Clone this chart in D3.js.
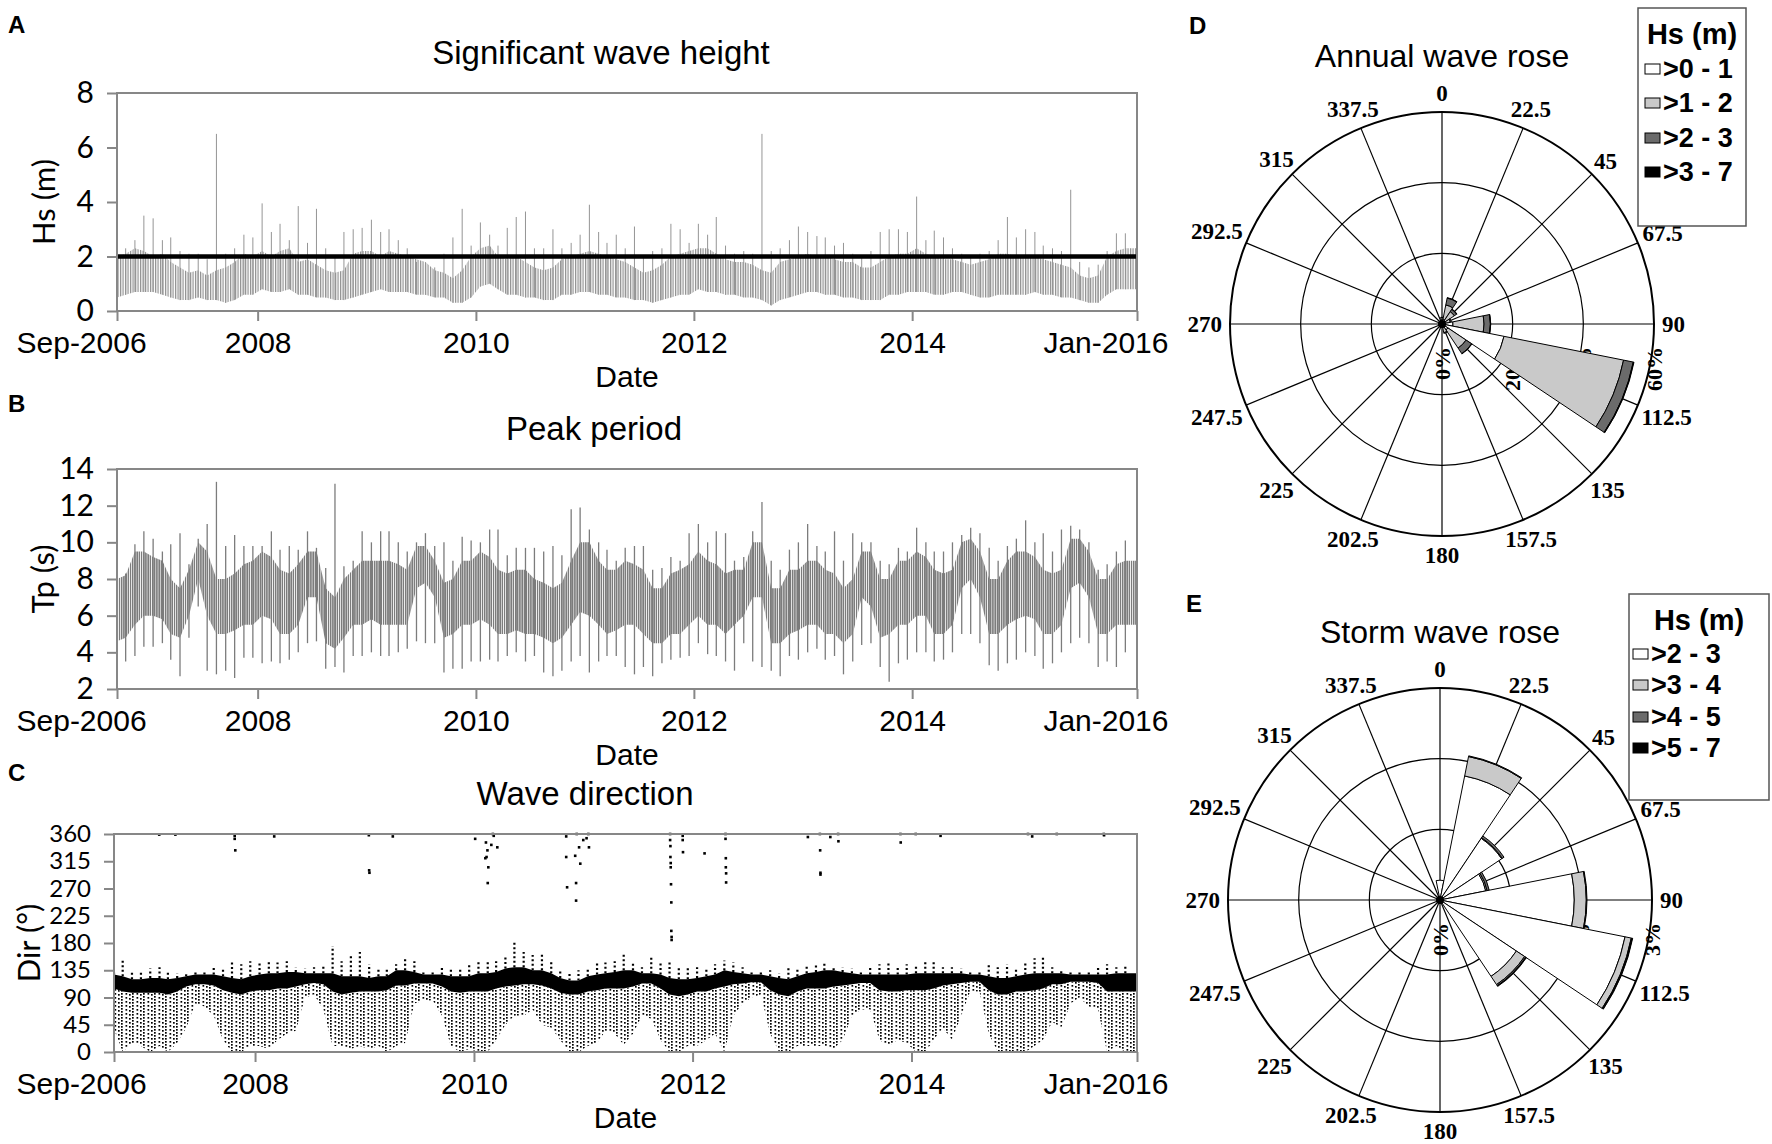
<!DOCTYPE html>
<html>
<head>
<meta charset="utf-8">
<script src="https://cdn.jsdelivr.net/npm/d3@7"></script>
<style>
  body { margin: 0; background: #fff; }
</style>
</head>
<body>
<script>
// ---- time series, one value per month, Sep-2006 .. Dec-2015 ----
var hsLo = [0.5, 0.6, 0.7, 0.7,
  0.7, 0.6, 0.5, 0.4, 0.4, 0.5, 0.4, 0.4, 0.3, 0.4, 0.6, 0.6,
  0.8, 0.7, 0.7, 0.8, 0.6, 0.6, 0.5, 0.5, 0.4, 0.4, 0.5, 0.6,
  0.7, 0.8, 0.7, 0.7, 0.7, 0.6, 0.6, 0.5, 0.5, 0.3, 0.3, 0.5,
  0.9, 1.0, 0.8, 0.6, 0.6, 0.5, 0.5, 0.4, 0.4, 0.6, 0.6, 0.7,
  0.7, 0.6, 0.6, 0.5, 0.5, 0.4, 0.4, 0.3, 0.4, 0.5, 0.6, 0.6,
  0.8, 0.7, 0.7, 0.6, 0.6, 0.5, 0.5, 0.4, 0.2, 0.4, 0.5, 0.6,
  0.7, 0.7, 0.6, 0.6, 0.5, 0.5, 0.4, 0.4, 0.4, 0.6, 0.6, 0.7,
  0.7, 0.7, 0.6, 0.6, 0.7, 0.7, 0.6, 0.5, 0.5, 0.6, 0.6, 0.6,
  0.6, 0.7, 0.6, 0.6, 0.5, 0.5, 0.4, 0.3, 0.3, 0.6, 0.8, 0.8];
var hsHi = [2.0, 2.1, 2.3, 2.2,
  2.0, 2.1, 1.8, 1.6, 1.4, 1.5, 1.3, 1.5, 1.6, 1.8, 2.1, 2.0,
  2.2, 2.0, 2.2, 2.3, 1.8, 1.9, 1.7, 1.5, 1.4, 1.5, 2.1, 2.2,
  2.2, 2.0, 2.2, 2.1, 2.0, 1.9, 1.8, 1.5, 1.4, 1.2, 1.5, 2.0,
  2.3, 2.4, 2.0, 1.9, 2.0, 1.8, 1.6, 1.5, 1.6, 1.9, 2.0, 2.1,
  2.2, 2.1, 2.0, 1.9, 1.8, 1.6, 1.4, 1.5, 1.7, 2.0, 2.1, 2.2,
  2.3, 2.3, 2.1, 1.9, 1.8, 1.8, 1.7, 1.5, 1.4, 1.8, 1.9, 2.0,
  2.1, 2.0, 2.0, 1.9, 1.8, 1.8, 1.6, 1.6, 1.8, 2.0, 2.1, 2.1,
  2.3, 2.1, 2.0, 1.9, 1.9, 1.8, 1.7, 1.8, 1.9, 2.1, 2.1, 2.0,
  2.0, 2.0, 1.9, 1.8, 1.7, 1.6, 1.3, 1.2, 1.3, 2.0, 2.2, 2.3];
var hsMax = [2.2, 2.3, 2.6, 3.5,
  3.4, 2.6, 2.7, 2.2, 2.1, 2.1, 1.9, 6.5, 2.1, 2.3, 2.8, 2.7,
  3.95, 2.9, 3.2, 2.6, 3.85, 2.5, 3.75, 2.3, 2.0, 2.9, 3.0, 3.05,
  3.35, 2.9, 3.0, 2.6, 2.3, 1.8, 1.7, 1.6, 2.1, 2.7, 3.75, 2.4,
  3.25, 2.8, 2.4, 3.05, 3.45, 3.65, 2.3, 2.3, 3.0, 2.3, 2.5, 2.8,
  3.9, 2.9, 2.5, 2.8, 2.3, 3.1, 2.0, 2.2, 2.3, 3.2, 3.0, 2.5,
  3.2, 2.8, 3.45, 2.4, 2.1, 2.2, 2.1, 6.5, 2.2, 2.3, 2.6, 3.1,
  2.9, 2.75, 2.7, 2.4, 2.5, 2.1, 2.0, 2.2, 2.9, 3.0, 3.0, 2.9,
  4.2, 2.6, 2.95, 2.7, 2.3, 2.1, 2.0, 2.1, 2.2, 2.6, 3.45, 2.7,
  3.0, 2.9, 2.4, 2.3, 2.2, 4.45, 1.8, 1.6, 1.7, 2.2, 2.85, 2.85];
var hsThreshold = 2;

var tpMin = [3.6, 3.5, 3.8, 4.3,
  4.3, 4.5, 3.6, 2.7, 4.8, 6.5, 3.0, 2.8, 3.0, 2.6, 3.7, 3.7,
  3.4, 3.5, 3.4, 3.6, 4.0, 4.5, 4.6, 3.1, 3.2, 2.9, 3.8, 3.8,
  4.0, 3.8, 3.8, 4.0, 4.2, 4.6, 4.5, 4.5, 2.9, 3.1, 3.1, 3.5,
  3.5, 3.6, 3.5, 3.8, 4.0, 3.5, 3.8, 2.9, 2.7, 3.0, 3.5, 3.8,
  2.9, 3.5, 3.8, 3.8, 3.2, 2.8, 3.2, 2.7, 3.4, 3.6, 3.7, 3.8,
  4.5, 3.9, 3.8, 3.5, 3.0, 4.5, 3.5, 3.2, 3.0, 2.7, 3.8, 3.6,
  4.0, 4.2, 3.6, 3.8, 2.8, 3.5, 4.4, 4.5, 3.2, 2.4, 3.4, 3.6,
  4.0, 4.0, 3.5, 3.6, 4.0, 5.0, 5.0, 4.5, 3.3, 3.0, 3.4, 3.6,
  4.0, 3.8, 3.1, 3.4, 4.0, 4.5, 4.8, 4.5, 3.2, 3.5, 3.2, 4.0];
var tpLo = [4.6, 4.8, 5.5, 6.0,
  6.0, 5.8, 5.0, 4.8, 6.0, 8.0, 6.0, 5.0, 5.0, 5.2, 5.5, 5.5,
  6.0, 5.8, 5.0, 5.0, 5.5, 7.0, 7.0, 4.5, 4.2, 4.8, 5.5, 5.5,
  5.8, 5.5, 5.5, 5.5, 5.5, 7.5, 7.8, 7.0, 4.8, 5.0, 5.5, 5.5,
  5.8, 5.5, 5.0, 5.0, 5.2, 5.0, 5.0, 4.8, 4.5, 4.8, 5.5, 6.2,
  6.0, 5.5, 5.0, 5.2, 5.5, 5.5, 5.0, 4.5, 4.5, 5.0, 5.0, 5.5,
  6.0, 5.5, 5.5, 5.0, 5.5, 6.0, 7.0, 7.0, 4.5, 4.5, 5.0, 5.2,
  5.5, 5.5, 5.0, 5.0, 4.5, 5.0, 7.0, 6.5, 4.8, 5.0, 5.5, 5.5,
  6.0, 6.0, 5.0, 5.0, 5.5, 7.5, 8.0, 7.0, 5.0, 5.0, 5.5, 5.8,
  6.0, 5.8, 5.0, 5.0, 5.5, 7.5, 7.8, 7.0, 5.0, 5.0, 5.5, 5.5];
var tpHi = [8.0, 8.2, 9.5, 9.5,
  9.2, 9.0, 8.0, 7.5, 8.5, 10.0, 9.5, 8.0, 8.0, 8.3, 8.8, 9.0,
  9.5, 9.2, 8.5, 8.3, 8.8, 9.5, 9.5, 7.5, 7.0, 8.0, 8.5, 9.0,
  9.0, 9.0, 9.0, 8.8, 8.5, 9.8, 9.8, 9.0, 7.8, 8.0, 9.0, 9.0,
  9.5, 9.2, 8.5, 8.3, 8.5, 8.5, 8.0, 7.8, 7.5, 7.8, 9.0, 10.0,
  10.0, 9.0, 8.5, 8.5, 9.0, 8.8, 8.5, 7.5, 7.5, 8.3, 8.5, 8.8,
  9.5, 9.0, 8.8, 8.3, 8.5, 8.5, 10.0, 10.0, 7.5, 7.5, 8.5, 8.5,
  9.0, 9.0, 8.5, 8.3, 7.5, 8.0, 9.5, 9.5, 8.0, 8.0, 9.0, 9.0,
  9.5, 9.2, 8.5, 8.3, 8.5, 10.0, 10.2, 9.5, 8.0, 8.0, 9.0, 9.5,
  9.5, 9.2, 8.5, 8.3, 8.5, 10.2, 10.2, 9.5, 8.0, 8.0, 8.8, 9.0];
var tpMax = [8.2, 8.3, 9.9, 10.6,
  10.2, 9.5, 9.9, 10.5, 8.8, 10.2, 11.0, 13.3, 9.8, 10.4, 9.8, 9.8,
  9.8, 10.6, 9.6, 9.8, 9.6, 10.6, 9.7, 8.6, 13.2, 8.7, 9.0, 10.6,
  10.0, 10.6, 10.6, 10.0, 9.5, 10.0, 10.5, 9.8, 10.0, 9.0, 10.3, 10.1,
  10.0, 10.7, 10.7, 9.3, 9.7, 9.7, 9.7, 9.5, 9.8, 9.3, 11.8, 11.9,
  10.7, 10.0, 9.6, 9.0, 9.7, 9.8, 9.8, 8.5, 8.6, 9.2, 9.0, 10.5,
  11.0, 10.0, 10.6, 10.5, 9.0, 9.2, 10.6, 12.2, 9.0, 8.5, 9.6, 10.0,
  11.0, 9.8, 9.5, 10.6, 9.0, 10.5, 10.0, 10.0, 9.0, 8.8, 9.7, 9.5,
  10.8, 10.0, 9.5, 9.5, 10.0, 10.4, 10.8, 10.5, 9.7, 9.0, 9.8, 10.2,
  11.2, 10.0, 10.5, 9.5, 10.7, 10.9, 10.7, 10.0, 8.5, 8.8, 9.5, 10.1];

var dirMin = [38, 0, 15, 10,
  0, 10, 0, 15, 40, 80, 75, 60, 20, 0, 0, 10,
  10, 5, 20, 30, 35, 90, 95, 70, 10, 10, 5, 10,
  5, 10, 0, 10, 15, 80, 85, 85, 60, 10, 0, 5,
  0, 0, 20, 45, 60, 60, 70, 45, 40, 20, 0, 0,
  10, 15, 35, 30, 12, 30, 60, 55, 20, 0, 0, 10,
  10, 20, 30, 0, 60, 80, 90, 95, 30, 0, 0, 10,
  10, 10, 10, 5, 20, 60, 70, 70, 20, 10, 20, 15,
  0, 0, 20, 40, 20, 60, 100, 100, 30, 0, 0, 0,
  0, 10, 20, 50, 40, 80, 90, 75, 70, 0, 10, 0];
var dirLo = [105, 100, 98, 98,
  98, 98, 95, 100, 108, 112, 112, 110, 102, 98, 95, 100,
  102, 102, 105, 105, 108, 112, 114, 112, 100, 95, 98, 100,
  100, 100, 102, 110, 110, 113, 113, 113, 108, 100, 98, 100,
  100, 100, 105, 108, 110, 112, 112, 110, 105, 98, 95, 95,
  100, 102, 105, 105, 105, 108, 113, 113, 105, 95, 92, 95,
  100, 100, 105, 108, 112, 113, 115, 115, 102, 95, 92, 100,
  105, 105, 105, 108, 110, 112, 114, 114, 102, 100, 100, 102,
  102, 102, 105, 110, 112, 114, 116, 116, 102, 95, 95, 100,
  100, 102, 105, 112, 112, 116, 116, 116, 114, 100, 100, 100];
var dirHi = [128, 125, 120, 120,
  122, 122, 120, 122, 125, 128, 128, 128, 125, 122, 120, 125,
  128, 130, 130, 132, 132, 130, 130, 130, 130, 125, 125, 125,
  122, 125, 125, 135, 135, 132, 128, 128, 128, 125, 125, 125,
  130, 130, 132, 138, 140, 140, 135, 135, 130, 122, 118, 118,
  125, 128, 130, 132, 135, 135, 130, 130, 128, 122, 120, 120,
  122, 125, 128, 135, 132, 130, 128, 128, 125, 122, 120, 125,
  130, 132, 135, 135, 132, 130, 128, 128, 128, 128, 128, 128,
  130, 130, 130, 130, 130, 130, 128, 128, 125, 122, 122, 125,
  128, 130, 130, 130, 130, 128, 128, 128, 128, 128, 130, 130];
var dirMax = [132, 155, 135, 135,
  138, 140, 135, 130, 132, 132, 135, 140, 140, 150, 145, 150,
  150, 150, 148, 150, 140, 138, 140, 145, 175, 150, 160, 165,
  145, 140, 140, 145, 154, 150, 135, 135, 140, 140, 140, 145,
  150, 150, 150, 160, 182, 165, 160, 162, 150, 135, 130, 135,
  140, 150, 148, 150, 163, 150, 140, 158, 150, 148, 140, 140,
  140, 140, 145, 151, 148, 140, 135, 132, 135, 130, 140, 140,
  145, 145, 149, 140, 140, 138, 135, 140, 145, 148, 140, 145,
  145, 150, 152, 140, 140, 138, 132, 132, 145, 140, 145, 140,
  150, 155, 157, 140, 135, 135, 132, 135, 140, 145, 140, 145];
// isolated direction readings far above the main band
var dirOutliers = [
  ["2007-02-15", 359], ["2007-04-10", 359], ["2007-10-25", 357], ["2007-10-25", 352], ["2007-10-27", 333],
  ["2008-03-05", 356], ["2009-01-15", 358], ["2009-01-16", 300], ["2009-01-17", 296], ["2009-04-05", 356],
  ["2010-01-05", 352], ["2010-02-08", 320], ["2010-02-10", 346], ["2010-02-12", 322], ["2010-02-15", 333],
  ["2010-02-16", 279], ["2010-02-18", 305], ["2010-02-28", 342], ["2010-03-05", 360], ["2010-03-08", 357],
  ["2010-03-20", 338], ["2010-11-05", 356], ["2010-11-05", 322], ["2010-11-08", 272], ["2010-12-05", 324],
  ["2010-12-08", 250], ["2010-12-08", 279], ["2010-12-10", 360], ["2010-12-18", 338], ["2010-12-22", 311],
  ["2011-01-01", 350], ["2011-01-12", 353], ["2011-01-18", 360], ["2011-01-20", 338],
  ["2011-10-18", 360], ["2011-10-18", 350], ["2011-10-19", 340], ["2011-10-19", 322], ["2011-10-20", 312],
  ["2011-10-20", 305], ["2011-10-21", 277], ["2011-10-22", 247], ["2011-10-22", 200], ["2011-10-23", 190],
  ["2011-10-23", 185], ["2011-11-29", 357], ["2011-11-29", 350], ["2011-11-30", 330], ["2012-02-10", 328],
  ["2012-04-20", 360], ["2012-04-20", 352], ["2012-04-21", 320], ["2012-04-21", 305], ["2012-04-22", 295],
  ["2012-04-22", 280], ["2013-01-20", 355], ["2013-03-01", 360], ["2013-03-02", 333], ["2013-03-03", 296],
  ["2013-03-03", 293], ["2013-04-05", 355], ["2013-05-01", 360], ["2013-05-02", 348], ["2013-11-25", 360],
  ["2013-11-26", 346], ["2014-01-15", 360], ["2014-04-08", 357], ["2015-01-25", 360], ["2015-02-08", 356],
  ["2015-05-01", 360], ["2015-10-05", 360], ["2015-10-06", 358]];

var dateTickLabels = ["Sep-2006", "2008", "2010", "2012", "2014", "Jan-2016"];
var hsTicks = [0, 2, 4, 6, 8];
var tpTicks = [2, 4, 6, 8, 10, 12, 14];
var dirTicks = [0, 45, 90, 135, 180, 225, 270, 315, 360];

// ---- wave roses (% of time per direction and Hs class) ----
var roseDirs = [0, 22.5, 45, 67.5, 90, 112.5, 135, 157.5, 180, 202.5, 225, 247.5, 270, 292.5, 315, 337.5];
var annual01 = [1.2, 1.4, 1.0, 0.8, 3.1, 17.9, 2.0, 1.0, 0.4, 0.3, 0.2, 0.2, 0.2, 0.2, 0.3, 0.5];
var annual12 = [0.6, 4.1, 3.2, 1.6, 8.8, 34.5, 6.2, 1.5, 0.2, 0.1, 0, 0, 0, 0, 0, 0.2];
var annual23 = [0.1, 2.0, 0.8, 0.3, 1.8, 2.8, 1.9, 0.2, 0, 0, 0, 0, 0, 0, 0, 0];
var annual37 = [0, 0.1, 0.1, 0, 0.1, 0.2, 0.1, 0, 0, 0, 0, 0, 0, 0, 0, 0];
var storm23 = [0.28, 1.79, 1.05, 0.66, 1.90, 2.67, 1.30, 0, 0, 0, 0, 0, 0, 0, 0, 0];
var storm34 = [0, 0.28, 0.01, 0.02, 0.17, 0.09, 0.14, 0, 0, 0, 0, 0, 0, 0, 0, 0];
var storm45 = [0, 0.01, 0.03, 0.03, 0.01, 0.01, 0.02, 0, 0, 0, 0, 0, 0, 0, 0, 0];
var storm57 = [0, 0, 0, 0, 0, 0.01, 0.01, 0, 0, 0, 0, 0, 0, 0, 0, 0];
var annualClasses = [">0 - 1", ">1 - 2", ">2 - 3", ">3 - 7"];
var stormClasses = [">2 - 3", ">3 - 4", ">4 - 5", ">5 - 7"];
var classColors = ["#ffffff", "#c9c9c9", "#6b6b6b", "#000000"];

// ------------------------------------------------------------------
var W = 1772, H = 1144;
var SANS = "'Liberation Sans', Arial, sans-serif";
var SERIF = "'Liberation Serif', 'Times New Roman', serif";
var CALI = "Lato, 'Liberation Sans', sans-serif";
var svg = d3.select("body").append("svg").attr("width", W).attr("height", H)
  .attr("font-family", SANS);
var defs = svg.append("defs");
var axisGrey = "#878787";

var months = d3.timeMonth.range(new Date(2006, 8, 1), new Date(2016, 0, 1));
var tStart = new Date(2006, 8, 17), tEnd = new Date(2016, 0, 24);
var dateTicks = [tStart, new Date(2008, 0, 1), new Date(2010, 0, 1), new Date(2012, 0, 1), new Date(2014, 0, 1), tEnd];
function mid(i) { return d3.timeDay.offset(months[i], 15); }

function hatch(id, w, color, sw) {
  var p = defs.append("pattern").attr("id", id).attr("patternUnits", "userSpaceOnUse")
    .attr("width", w).attr("height", 8);
  p.append("rect").attr("width", sw).attr("height", 8).attr("fill", color);
}
hatch("hatchA", 2.5, "#8f8f8f", 1.2);
hatch("hatchB", 2.2, "#7c7c7c", 1.5);
// dotted vertical strands for the scattered directions
var dots = defs.append("pattern").attr("id", "dotsC").attr("patternUnits", "userSpaceOnUse")
  .attr("width", 11).attr("height", 12);
[[0, 0], [0, 3], [0, 6], [0, 9], [4.5, 1], [4.5, 5], [4.5, 9], [8, 2], [8, 6], [8, 10]]
  .forEach(function(p) {
    dots.append("rect").attr("x", p[0]).attr("y", p[1]).attr("width", 1.7).attr("height", 1.7).attr("fill", "#000");
  });

// band between two monthly series, held out to both ends of the axis
function band(lo, hi) {
  var n = lo.length - 1;
  var pts = [{ t: tStart, lo: lo[0], hi: hi[0] }];
  months.forEach(function(m, i) { pts.push({ t: mid(i), lo: lo[i], hi: hi[i] }); });
  pts.push({ t: tEnd, lo: lo[n], hi: hi[n] });
  return pts;
}

function seriesPanel(o) {
  var x = d3.scaleTime().domain([tStart, tEnd]).range([o.left, o.right]).clamp(true);
  var y = d3.scaleLinear().domain(o.yDomain).range([o.bottom, o.top]);
  var g = svg.append("g");

  defs.append("clipPath").attr("id", "clip" + o.id).append("rect")
    .attr("x", o.left).attr("y", o.top - 2)
    .attr("width", o.right - o.left).attr("height", o.bottom - o.top + 2);
  var plot = g.append("g").attr("clip-path", "url(#clip" + o.id + ")");
  o.draw(plot, x, y);

  g.append("rect").attr("x", o.left).attr("y", o.top)
    .attr("width", o.right - o.left).attr("height", o.bottom - o.top)
    .attr("fill", "none").attr("stroke", axisGrey).attr("stroke-width", 2);

  var ya = g.append("g").attr("transform", "translate(" + o.left + ",0)")
    .call(d3.axisLeft(y).tickValues(o.yTicks).tickSize(10).tickPadding(13).tickSizeOuter(0));
  ya.select(".domain").remove();
  ya.selectAll("line").attr("stroke", axisGrey).attr("stroke-width", 2);
  ya.selectAll("text").attr("font-size", o.yTickSize).attr("fill", "#000").attr("font-family", CALI);

  var xa = g.append("g").attr("transform", "translate(0," + o.bottom + ")")
    .call(d3.axisBottom(x).tickValues(dateTicks)
      .tickFormat(function(d, i) { return dateTickLabels[i]; })
      .tickSize(10).tickPadding(11).tickSizeOuter(0));
  xa.select(".domain").remove();
  xa.selectAll("line").attr("stroke", axisGrey).attr("stroke-width", 2);
  xa.selectAll("text").attr("font-size", 30).attr("fill", "#000").attr("font-family", SANS);
  var last = dateTicks.length - 1;
  xa.selectAll(".tick text").each(function(d, i) {
    if (i === 0) d3.select(this).attr("text-anchor", "start").attr("x", 16 - o.left);
    if (i === last) d3.select(this).attr("text-anchor", "end").attr("x", 1168 - o.right);
  });

  g.append("text").attr("x", o.titleX).attr("y", o.top - 29).attr("text-anchor", "middle")
    .attr("font-size", 33).text(o.title);
  g.append("text").attr("x", (o.left + o.right) / 2).attr("y", o.bottom + 76)
    .attr("text-anchor", "middle").attr("font-size", 30).text("Date");
  g.append("text")
    .attr("transform", "translate(" + o.yTitleX + "," + (o.top + o.bottom) / 2 + ") rotate(-90)")
    .attr("text-anchor", "middle").attr("dy", "0.35em").attr("font-size", 31)
    .attr("font-family", CALI).text(o.yTitle);
  g.append("text").attr("x", 8).attr("y", o.letterY).attr("font-size", 24)
    .attr("font-weight", "bold").text(o.letter);
}

seriesPanel({
  id: "A", letter: "A", letterY: 33, title: "Significant wave height", titleX: 601,
  yTitle: "Hs (m)", yTitleX: 44, yTickSize: 30,
  left: 117, right: 1137, top: 93, bottom: 311, yDomain: [0, 8], yTicks: hsTicks,
  draw: function(plot, x, y) {
    plot.append("path").datum(band(hsLo, hsHi))
      .attr("d", d3.area().x(function(d) { return x(d.t); })
        .y0(function(d) { return y(d.lo); }).y1(function(d) { return y(d.hi); }))
      .attr("fill", "url(#hatchA)");
    plot.selectAll(".spike").data(months).enter().append("line")
      .attr("x1", function(d, i) { return x(mid(i)); }).attr("x2", function(d, i) { return x(mid(i)); })
      .attr("y1", function(d, i) { return y(hsLo[i]); }).attr("y2", function(d, i) { return y(hsMax[i]); })
      .attr("stroke", "#959595").attr("stroke-width", 1);
    plot.append("line").attr("x1", x.range()[0]).attr("x2", x.range()[1])
      .attr("y1", y(hsThreshold)).attr("y2", y(hsThreshold))
      .attr("stroke", "#000").attr("stroke-width", 4.5);
  }
});

seriesPanel({
  id: "B", letter: "B", letterY: 412, title: "Peak period", titleX: 594,
  yTitle: "Tp (s)", yTitleX: 43, yTickSize: 30,
  left: 117, right: 1137, top: 469, bottom: 689, yDomain: [2, 14], yTicks: tpTicks,
  draw: function(plot, x, y) {
    plot.append("path").datum(band(tpLo, tpHi))
      .attr("d", d3.area().x(function(d) { return x(d.t); })
        .y0(function(d) { return y(d.lo); }).y1(function(d) { return y(d.hi); }))
      .attr("fill", "url(#hatchB)");
    plot.selectAll(".spike").data(months).enter().append("line")
      .attr("x1", function(d, i) { return x(mid(i)); }).attr("x2", function(d, i) { return x(mid(i)); })
      .attr("y1", function(d, i) { return y(tpMin[i]); }).attr("y2", function(d, i) { return y(tpMax[i]); })
      .attr("stroke", "#7c7c7c").attr("stroke-width", 1.3);
  }
});

seriesPanel({
  id: "C", letter: "C", letterY: 781, title: "Wave direction", titleX: 585,
  yTitle: "Dir (°)", yTitleX: 29, yTickSize: 24,
  left: 114, right: 1137, top: 834, bottom: 1052, yDomain: [0, 360], yTicks: dirTicks,
  draw: function(plot, x, y) {
    var ax = function(d) { return x(d.t); };
    plot.append("path").datum(band(dirMin, dirLo))
      .attr("d", d3.area().x(ax).y0(function(d) { return y(d.lo); }).y1(function(d) { return y(d.hi); }))
      .attr("fill", "url(#dotsC)");
    plot.append("path").datum(band(dirLo, dirHi))
      .attr("d", d3.area().x(ax).y0(function(d) { return y(d.lo); }).y1(function(d) { return y(d.hi); }))
      .attr("fill", "#000");
    plot.selectAll(".spike").data(months).enter().append("line")
      .attr("x1", function(d, i) { return x(mid(i)); }).attr("x2", function(d, i) { return x(mid(i)); })
      .attr("y1", function(d, i) { return y(dirHi[i]); }).attr("y2", function(d, i) { return y(dirMax[i]); })
      .attr("stroke", "#000").attr("stroke-width", 2.2).attr("stroke-dasharray", "2 2.5");
    var parse = d3.timeParse("%Y-%m-%d");
    plot.selectAll(".out").data(dirOutliers).enter().append("rect")
      .attr("x", function(d) { return x(parse(d[0])) - 1.3; })
      .attr("y", function(d) { return y(d[1]) - 1.3; })
      .attr("width", 2.6).attr("height", 2.6).attr("fill", "#000");
  }
});

// ------------------------------------------------------------------
var R = 212;
function rad(deg) { return deg * Math.PI / 180; }

function rose(o) {
  var g = svg.append("g").attr("transform", "translate(" + o.cx + "," + o.cy + ")");
  var r = d3.scaleLinear().domain([0, o.max]).range([0, R]);

  o.rings.forEach(function(v) {
    g.append("circle").attr("r", r(v)).attr("fill", "none").attr("stroke", "#000")
      .attr("stroke-width", v === o.max ? 2 : 1.2);
  });
  g.selectAll(".spoke").data(roseDirs).enter().append("line")
    .attr("x2", function(d) { return Math.sin(rad(d)) * R; })
    .attr("y2", function(d) { return -Math.cos(rad(d)) * R; })
    .attr("stroke", "#000").attr("stroke-width", 1.2);

  [0].concat(o.rings).forEach(function(v) {
    g.append("text").attr("transform", "translate(" + r(v) + ",23) rotate(-90)")
      .attr("text-anchor", "end").attr("dominant-baseline", "central")
      .attr("font-family", SERIF).attr("font-weight", "bold").attr("font-size", 22).text(v + "%");
  });

  var arc = d3.arc();
  roseDirs.forEach(function(d, i) {
    var acc = 0;
    o.series.forEach(function(s, k) {
      var v = s[i];
      if (!v) return;
      g.append("path").attr("d", arc({
          innerRadius: r(acc), outerRadius: r(acc + v),
          startAngle: rad(d - 11.25), endAngle: rad(d + 11.25)
        }))
        .attr("fill", classColors[k]).attr("stroke", "#000").attr("stroke-width", 1);
      acc += v;
    });
  });
  g.append("circle").attr("r", 4).attr("fill", "#000");

  g.selectAll(".dirlab").data(roseDirs).enter().append("text")
    .attr("text-anchor", "middle").attr("dy", "0.35em")
    .attr("font-family", SERIF).attr("font-weight", "bold").attr("font-size", 23)
    .text(function(d) { return String(d); })
    .each(function(d) {
      var w = this.getComputedTextLength(), h = 22;
      var s = Math.sin(rad(d)), c = Math.cos(rad(d));
      var rr = R + 8 + (w / 2) * s * s + (h / 2) * c * c;
      d3.select(this).attr("x", rr * s).attr("y", -rr * c);
    });

  svg.append("text").attr("x", o.cx).attr("y", o.titleY).attr("text-anchor", "middle")
    .attr("font-size", 32).text(o.title);
  svg.append("text").attr("x", o.letterX).attr("y", o.letterY).attr("font-size", 24)
    .attr("font-weight", "bold").text(o.letter);

  var L = o.legend;
  var lg = svg.append("g");
  lg.append("rect").attr("x", L.x).attr("y", L.y).attr("width", L.w).attr("height", L.h)
    .attr("fill", "#fff").attr("stroke", "#555").attr("stroke-width", 1.5);
  lg.append("text").attr("x", L.titleX).attr("y", L.titleY).attr("text-anchor", "middle")
    .attr("font-size", 29).attr("font-weight", "bold").text("Hs (m)");
  o.classes.forEach(function(c, k) {
    var cy = L.itemY[k];
    lg.append("rect").attr("x", L.swX).attr("y", cy - 5).attr("width", 15).attr("height", 10)
      .attr("fill", classColors[k]).attr("stroke", "#000").attr("stroke-width", 1);
    lg.append("text").attr("x", L.swX + 18).attr("y", cy).attr("dy", "0.35em")
      .attr("font-size", 27).attr("font-weight", "bold").text(c);
  });
}

rose({
  cx: 1442, cy: 324, max: 60, rings: [20, 40, 60], title: "Annual wave rose", titleY: 67,
  letter: "D", letterX: 1189, letterY: 34,
  series: [annual01, annual12, annual23, annual37], classes: annualClasses,
  legend: { x: 1638, y: 8, w: 108, h: 218, titleX: 1692, titleY: 44, swX: 1645, itemY: [69, 103, 138, 172] }
});
rose({
  cx: 1440, cy: 900, max: 3, rings: [1, 2, 3], title: "Storm wave rose", titleY: 643,
  letter: "E", letterX: 1186, letterY: 612,
  series: [storm23, storm34, storm45, storm57], classes: stormClasses,
  legend: { x: 1629, y: 594, w: 140, h: 206, titleX: 1699, titleY: 630, swX: 1633, itemY: [654, 685, 717, 748] }
});
</script>
</body>
</html>
